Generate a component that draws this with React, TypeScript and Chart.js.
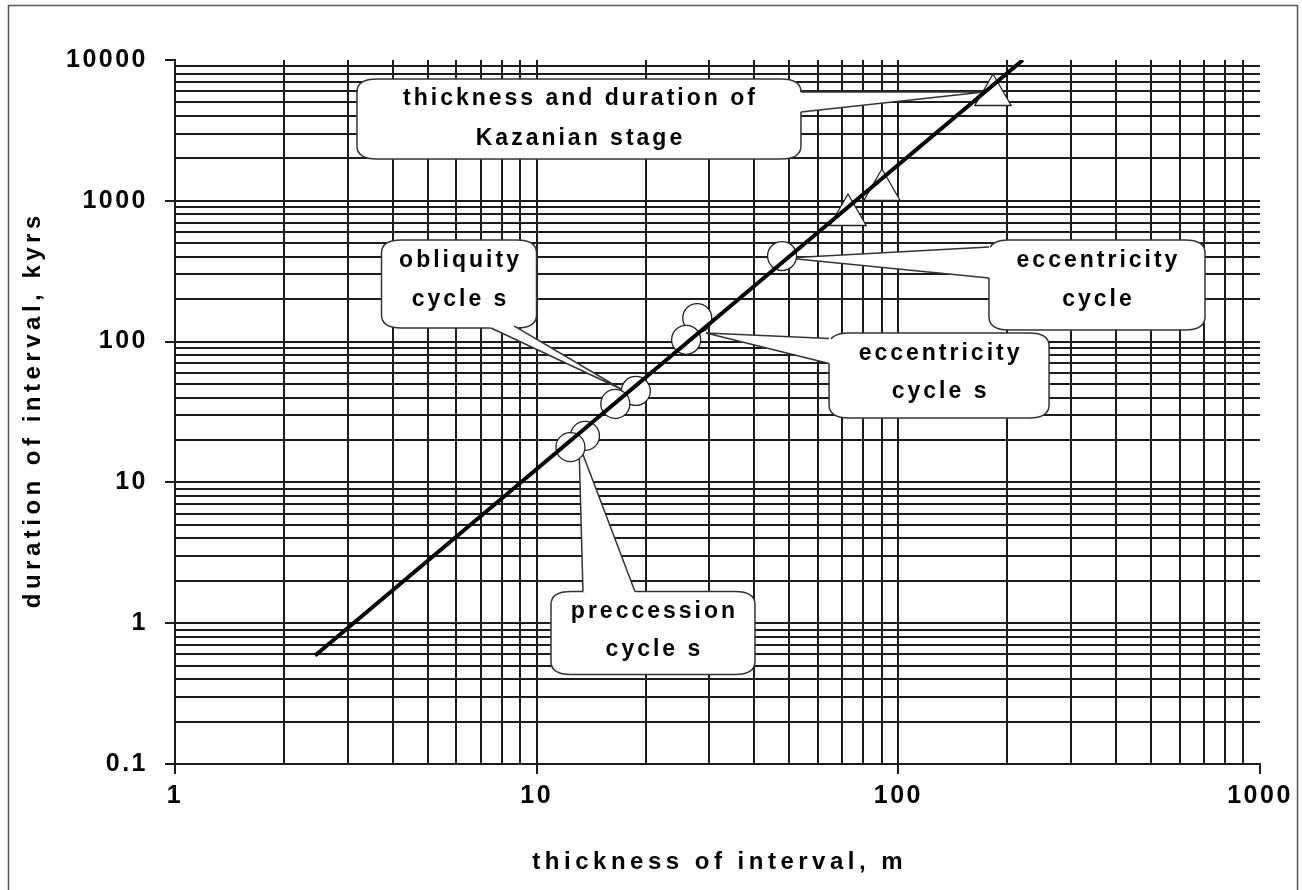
import { useEffect, useRef } from "react";
import { Chart, registerables } from "chart.js";

Chart.register(...registerables);

// ---------- data ----------
const xMajorTicks = [1, 10, 100, 1000];
const xTickLabels = ["1", "10", "100", "1000"];
const yMajorTicks = [0.1, 1, 10, 100, 1000, 10000];
const yTickLabels = ["0.1", "1", "10", "100", "1000", "10000"];
const minorSteps = [2, 3, 4, 5, 6, 7, 8, 9];

// fitted thickness–duration line
const trendThickness = [2.44, 221];
const trendDuration = [0.59, 10000];

// astronomical cycles (circles)
const cycleThickness = [47.7, 27.8, 25.9, 18.8, 16.5, 13.6, 12.4];
const cycleDuration = [405, 147, 103, 44.6, 36.1, 21.4, 17.8];

// stage-level intervals (triangles)
const stageThickness = [182.7, 90.1, 72.6];
const stageDuration = [5640, 1193, 793];

// callout texts
const calloutLines = [
  ["thickness and duration of", "Kazanian stage"],
  ["obliquity", "cycle s"],
  ["eccentricity", "cycle"],
  ["eccentricity", "cycle s"],
  ["preccession", "cycle s"],
];
// callout anchors (data coords): box centre and tail tip
const calloutCenterX = [13.09, 6.1, 354.2, 129.6, 20.97];
const calloutCenterY = [3810, 256.6, 252.4, 57.43, 0.852];
const calloutTipX = [172.5, 17.11, 49.2, 29.39, 13.09];
const calloutTipY = [5926, 46.06, 392.5, 115.1, 18.74];

// ---------- layout/style (not data) ----------
const calloutGeom = [
  { w: 444, h: 80, base: [[222, -27], [222, -7]], text: [-20, 20] },
  { w: 155, h: 88, base: [[32, 44], [55, 42]], text: [-23, 16] },
  { w: 216, h: 90, base: [[-108, -38], [-108, -7]], text: [-24, 15] },
  { w: 220, h: 85, base: [[-110, -37], [-110, -12]], text: [-21.5, 16.5] },
  { w: 204, h: 83, base: [[-70, -41.5], [-18, -41.5]], text: [-21, 17] },
];

const FONT = '"Liberation Sans", Arial, Helvetica, sans-serif';
const GRID = "#1c1c1c";

const buildGrid = (majors: number[]) => {
  const vals: number[] = [];
  majors.forEach((m, i) => {
    vals.push(m);
    if (i < majors.length - 1) minorSteps.forEach((s) => vals.push(m * s));
  });
  return vals;
};

const isMajor = (arr: number[], v: number) =>
  arr.some((m) => Math.abs(m - v) / m < 1e-9);

function boxPath(ctx: CanvasRenderingContext2D, x: number, y: number, w: number, h: number) {
  const rx = Math.min(20, w / 6);
  const ry = Math.min(13, h / 5);
  ctx.beginPath();
  ctx.moveTo(x + rx, y);
  ctx.lineTo(x + w - rx, y);
  ctx.quadraticCurveTo(x + w, y, x + w, y + ry);
  ctx.lineTo(x + w, y + h - ry);
  ctx.quadraticCurveTo(x + w, y + h, x + w - rx, y + h);
  ctx.lineTo(x + rx, y + h);
  ctx.quadraticCurveTo(x, y + h, x, y + h - ry);
  ctx.lineTo(x, y + ry);
  ctx.quadraticCurveTo(x, y, x + rx, y);
  ctx.closePath();
}

const decorPlugin = {
  id: "decor",
  beforeLayout(chart: any) {
    (chart.ctx as any).letterSpacing = "2.5px";
  },
  beforeDraw(chart: any) {
    const ctx = chart.ctx as CanvasRenderingContext2D;
    ctx.save();
    ctx.fillStyle = "#fff";
    ctx.fillRect(0, 0, chart.width, chart.height);
    ctx.strokeStyle = "#555";
    ctx.lineWidth = 1.5;
    ctx.strokeRect(8.5, 5.5, 1289, 900);
    ctx.restore();
    (ctx as any).letterSpacing = "2.5px";
  },
  beforeDatasetsDraw(chart: any) {
    const ctx = chart.ctx as CanvasRenderingContext2D;
    const xs = chart.scales.x;
    const ys = chart.scales.y;
    ctx.save();
    calloutLines.forEach((lines, i) => {
      const g = calloutGeom[i];
      const cx = xs.getPixelForValue(calloutCenterX[i]);
      const cy = ys.getPixelForValue(calloutCenterY[i]);
      const tx = xs.getPixelForValue(calloutTipX[i]);
      const ty = ys.getPixelForValue(calloutTipY[i]);
      const bx = cx - g.w / 2;
      const by = cy - g.h / 2;
      ctx.lineWidth = 1.5;
      ctx.strokeStyle = "#333";
      ctx.fillStyle = "#fff";
      boxPath(ctx, bx, by, g.w, g.h);
      ctx.fill();
      ctx.stroke();
      const b1 = [cx + g.base[0][0], cy + g.base[0][1]];
      const b2 = [cx + g.base[1][0], cy + g.base[1][1]];
      const inward = (p: number[]) => {
        const dx = cx - p[0];
        const dy = cy - p[1];
        const d = Math.hypot(dx, dy) || 1;
        return [p[0] + (dx / d) * 4, p[1] + (dy / d) * 4];
      };
      const i1 = inward(b1);
      const i2 = inward(b2);
      ctx.beginPath();
      ctx.moveTo(i1[0], i1[1]);
      ctx.lineTo(b1[0], b1[1]);
      ctx.lineTo(tx, ty);
      ctx.lineTo(b2[0], b2[1]);
      ctx.lineTo(i2[0], i2[1]);
      ctx.closePath();
      ctx.fill();
      ctx.beginPath();
      ctx.moveTo(b1[0], b1[1]);
      ctx.lineTo(tx, ty);
      ctx.lineTo(b2[0], b2[1]);
      ctx.stroke();
      ctx.fillStyle = "#000";
      ctx.font = `bold 23px ${FONT}`;
      ctx.textAlign = "center";
      ctx.textBaseline = "middle";
      (ctx as any).letterSpacing = "3px";
      lines.forEach((t, j) => {
        ctx.fillText(t, cx + 1.5, cy + g.text[j]);
      });
    });
    ctx.restore();
    (ctx as any).letterSpacing = "2.5px";
  },
  afterDraw(chart: any) {
    const ctx = chart.ctx as CanvasRenderingContext2D;
    const a = chart.chartArea;
    ctx.save();
    ctx.fillStyle = "#000";
    ctx.font = `bold 24px ${FONT}`;
    ctx.textAlign = "center";
    ctx.textBaseline = "middle";
    (ctx as any).letterSpacing = "4.5px";
    ctx.fillText("thickness of interval, m", (a.left + a.right) / 2 + 2.25, 862);
    ctx.translate(33, (a.top + a.bottom) / 2);
    ctx.rotate(-Math.PI / 2);
    ctx.fillText("duration of interval, kyrs", 2.25, 0);
    ctx.restore();
  },
};

export default function App() {
  const ref = useRef<HTMLCanvasElement | null>(null);

  useEffect(() => {
    if (!ref.current) return;
    const xGrid = buildGrid(xMajorTicks);
    const yGrid = buildGrid(yMajorTicks);
    const tickFont = { family: FONT, size: 25, weight: "bold" as const };

    const chart = new Chart(ref.current, {
      type: "scatter",
      data: {
        datasets: [
          {
            label: "trend",
            data: trendThickness.map((x, i) => ({ x, y: trendDuration[i] })),
            showLine: true,
            borderColor: "#000",
            borderWidth: 4,
            pointRadius: 0,
            order: 0,
          },
          {
            label: "cycles",
            data: cycleThickness.map((x, i) => ({ x, y: cycleDuration[i] })),
            pointStyle: "circle",
            pointRadius: 14.5,
            backgroundColor: "#fff",
            borderColor: "#222",
            borderWidth: 1.3,
            order: 1,
          },
          {
            label: "stages",
            data: stageThickness.map((x, i) => ({ x, y: stageDuration[i] })),
            pointStyle: "triangle",
            pointRadius: 21,
            backgroundColor: "#fff",
            borderColor: "#222",
            borderWidth: 1.3,
            order: 2,
          },
        ],
      },
      options: {
        responsive: false,
        animation: false,
        layout: { padding: { left: 0, top: 60, right: 42, bottom: 0 } },
        plugins: { legend: { display: false }, tooltip: { enabled: false } },
        scales: {
          x: {
            type: "logarithmic",
            min: 1,
            max: 1000,
            afterBuildTicks: (s: any) => {
              s.ticks = xGrid.map((v) => ({ value: v, major: isMajor(xMajorTicks, v) }));
            },
            afterFit: (s: any) => {
              s.height = 126;
            },
            ticks: {
              autoSkip: false,
              maxRotation: 0,
              padding: 7,
              color: "#000",
              font: tickFont,
              callback: (v: any) => {
                const k = xMajorTicks.findIndex((m) => Math.abs(m - v) / m < 1e-9);
                return k >= 0 ? xTickLabels[k] : "";
              },
            },
            grid: {
              color: (c: any) => (c.tick && isMajor([1000], c.tick.value) ? "rgba(0,0,0,0)" : GRID),
              lineWidth: 2,
              tickLength: 10,
              tickColor: (c: any) => (c.tick && isMajor(xMajorTicks, c.tick.value) ? GRID : "rgba(0,0,0,0)"),
            },
            border: { display: true, color: GRID, width: 2 },
          },
          y: {
            type: "logarithmic",
            min: 0.1,
            max: 10000,
            afterBuildTicks: (s: any) => {
              s.ticks = yGrid.map((v) => ({ value: v, major: isMajor(yMajorTicks, v) }));
            },
            afterFit: (s: any) => {
              s.width = 175;
            },
            ticks: {
              autoSkip: false,
              padding: 17,
              color: "#000",
              font: tickFont,
              callback: (v: any) => {
                const k = yMajorTicks.findIndex((m) => Math.abs(m - v) / m < 1e-9);
                return k >= 0 ? yTickLabels[k] : "";
              },
            },
            grid: {
              color: (c: any) => (c.tick && isMajor([10000], c.tick.value) ? "rgba(0,0,0,0)" : GRID),
              lineWidth: 2,
              tickLength: 10,
              tickColor: (c: any) => (c.tick && isMajor(yMajorTicks, c.tick.value) ? GRID : "rgba(0,0,0,0)"),
            },
            border: { display: true, color: GRID, width: 2 },
          },
        },
      },
      plugins: [decorPlugin],
    });
    return () => chart.destroy();
  }, []);

  return (
    <canvas
      ref={ref}
      width={1302}
      height={890}
      style={{ position: "absolute", left: 0, top: 0, width: 1302, height: 890 }}
    />
  );
}
